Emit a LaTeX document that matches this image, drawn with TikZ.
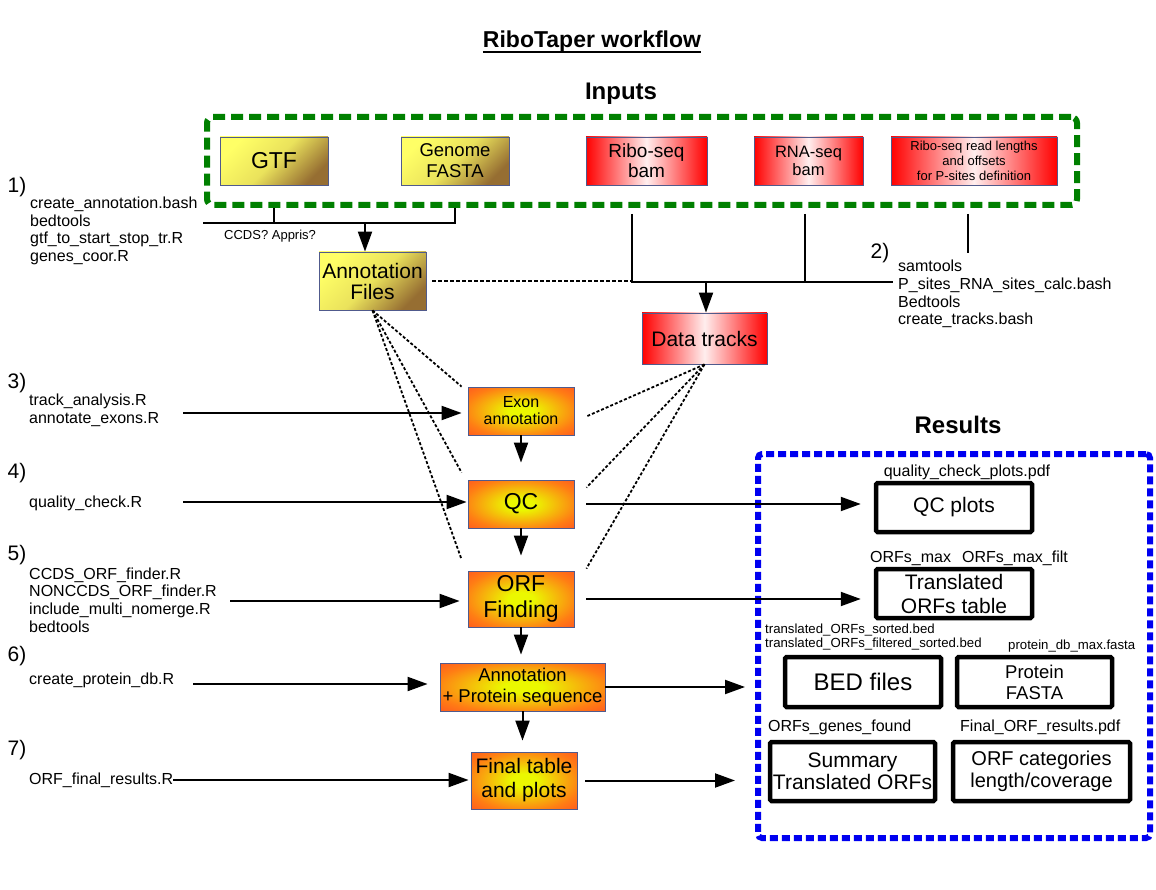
\documentclass[tikz,border=0pt]{standalone}
\usepackage{fontspec}
\setmainfont{Liberation Sans}
\usepackage{xcolor}
\usepackage{tikz}
\usetikzlibrary{positioning, arrows.meta}

\definecolor{ylw}{RGB}{255,255,102}
\definecolor{brn}{RGB}{150,110,50}
\definecolor{pinkw}{RGB}{255,238,238}
\definecolor{orng}{RGB}{255,60,40}
\definecolor{omid}{RGB}{255,125,20}
\definecolor{yel}{RGB}{235,248,0}
\definecolor{boxline}{RGB}{80,90,140}
\definecolor{grn}{RGB}{0,128,0}
\definecolor{blu}{RGB}{0,0,240}
\newcommand{\fsz}[2]{\fontsize{#1}{#2}\selectfont}
\pgfdeclareradialshading{glow}{\pgfpoint{0bp}{0bp}}{color(0bp)=(yel); color(6bp)=(yel); color(27bp)=(omid); color(44bp)=(orng); color(75bp)=(orng)}

\begin{document}
\begin{tikzpicture}[x=1pt, y=-1pt,
    every node/.style={inner sep=0pt, align=center},
    gbox/.style={draw=boxline, line width=0.8pt, top color=ylw, bottom color=brn, middle color=ylw!80!brn, shading angle=45},
    rbox/.style={draw=boxline, line width=0.8pt, left color=red, right color=red, middle color=pinkw},
    obox/.style={draw=boxline, line width=0.8pt, shade, shading=glow},
    resbox/.style={draw, line width=4.5pt, rounded corners=1.5pt},
    arr/.style={line width=2pt, -{Triangle[length=20pt, width=14pt]}},
    wire/.style={line width=2pt},
    dots/.style={line width=1.8pt, dash pattern=on 3pt off 2pt},
    num/.style={font=\fsz{21}{24}},
    tools/.style={anchor=west, align=left, font=\fsz{16}{17.7}},
    fname/.style={anchor=west, align=left, font=\fsz{16}{18}}]
    \useasboundingbox (0,0) rectangle (1156,890);

    % Title and headings
    \node[font=\fsz{23}{27}\bfseries, anchor=base] (title) at (592,48) {RiboTaper workflow};
    \draw[line width=2pt] ([yshift=-4pt]title.base west) -- ([yshift=-4pt]title.base east);
    \node[font=\fsz{24}{28}\bfseries, anchor=base] (inlbl) at (621,100) {Inputs};
    \node[font=\fsz{24}{28}\bfseries, anchor=base] (reslbl) at (958,433) {Results};

    % Inputs frame and boxes
    \node[draw=grn, line width=6pt, dash pattern=on 12pt off 6pt, rounded corners=6pt,
          minimum width=870pt, minimum height=88pt] (inputs) at (642,161) {};
    \node[gbox, minimum width=108pt, minimum height=48pt, font=\fsz{23}{26}] (gtf) at (274,161) {GTF};
    \node[gbox, minimum width=108pt, minimum height=48pt, font=\fsz{18.5}{21}] (fasta) at (455,161) {Genome\\FASTA};
    \node[rbox, minimum width=121pt, minimum height=48pt, font=\fsz{19}{20}] (ribo) at (646.5,161) {Ribo-seq\\bam};
    \node[rbox, minimum width=109pt, minimum height=48pt, font=\fsz{16.5}{17.5}] (rna) at (808.5,161) {RNA-seq\\bam};
    \node[rbox, minimum width=166pt, minimum height=48pt, font=\fsz{13}{15}] (offs) at (974,161) {Ribo-seq read lengths\\and offsets\\for P-sites definition};

    % Step numbers and scripts
    \foreach \n/\x/\y in {1/17/187, 2/880/253, 3/17/383, 4/17/473, 5/17/555, 6/17/656, 7/17/750} {
        \node[num] (n\n) at (\x,\y) {\n)};
    }
    \node[tools] (tools1) at (30,231) {create\_annotation.bash\\bedtools\\gtf\_to\_start\_stop\_tr.R\\genes\_coor.R};
    \node[tools] (tools2) at (898,294) {samtools\\P\_sites\_RNA\_sites\_calc.bash\\Bedtools\\create\_tracks.bash};
    \node[tools] (tools3) at (29,410) {track\_analysis.R\\annotate\_exons.R};
    \node[tools] (tools4) at (29,503) {quality\_check.R};
    \node[tools] (tools5) at (29,600) {CCDS\_ORF\_finder.R\\NONCCDS\_ORF\_finder.R\\include\_multi\_nomerge.R\\bedtools};
    \node[tools] (tools6) at (29,680) {create\_protein\_db.R};
    \node[tools] (tools7) at (29,780) {ORF\_final\_results.R};
    \node[anchor=west, font=\fsz{13}{15}] (ccds) at (224,236) {CCDS? Appris?};

    % Processing boxes
    \node[gbox, minimum width=107pt, minimum height=58pt, font=\fsz{21}{21}] (annot) at (372.5,281) {Annotation\\Files};
    \node[rbox, minimum width=125pt, minimum height=51pt, font=\fsz{21}{24}] (tracks) at (704.5,338.5) {Data tracks};
    \node[obox, minimum width=106pt, minimum height=48pt, font=\fsz{16}{17}] (exon) at (521,411) {Exon\\annotation};
    \node[obox, minimum width=106pt, minimum height=48pt, font=\fsz{23}{26}] (qc) at (521,504) {QC};
    \node[obox, minimum width=106pt, minimum height=56pt, font=\fsz{23}{26}] (orf) at (521,599) {ORF\\Finding};
    \node[obox, minimum width=165pt, minimum height=48pt, font=\fsz{18.5}{21}] (prot) at (522.5,687) {Annotation\\+ Protein sequence};
    \node[obox, minimum width=106pt, minimum height=57pt, font=\fsz{21}{24}] (final) at (524,780.5) {Final table\\and plots};

    % Results frame and boxes
    \node[draw=blu, line width=6pt, dash pattern=on 8pt off 4pt, rounded corners=4pt,
          minimum width=392pt, minimum height=384pt] (results) at (954,646) {};
    \node[resbox, minimum width=156pt, minimum height=49pt, font=\fsz{21}{24}] (qcplots) at (954,507.5) {QC plots};
    \node[resbox, minimum width=156pt, minimum height=49pt, font=\fsz{21}{24}] (orftab) at (954,593.5) {Translated\\ORFs table};
    \node[resbox, minimum width=156pt, minimum height=50pt, font=\fsz{24}{26}] (bed) at (863,682) {BED files};
    \node[resbox, minimum width=155pt, minimum height=50pt, font=\fsz{18.5}{21}] (pfasta) at (1034.5,682) {Protein\\FASTA};
    \node[resbox, minimum width=165pt, minimum height=59pt, font=\fsz{21}{22}] (summ) at (852.5,771.5) {Summary\\Translated ORFs};
    \node[resbox, minimum width=177pt, minimum height=59pt, font=\fsz{20}{22}] (cats) at (1041.5,771.5) {ORF categories\\length/coverage};

    % Output file names
    \node[font=\fsz{16}{18}] (qclbl) at (967,472) {quality\_check\_plots.pdf};
    \node[fname] (tablbl) at (870,558) {ORFs\_max\hspace{11pt}ORFs\_max\_filt};
    \node[fname, font=\fsz{13.2}{14.5}] (bedlbl) at (765,637) {translated\_ORFs\_sorted.bed\\translated\_ORFs\_filtered\_sorted.bed};
    \node[fname, font=\fsz{13.2}{15}] (falbl) at (1008,646) {protein\_db\_max.fasta};
    \node[fname] (sumlbl) at (768,727) {ORFs\_genes\_found};
    \node[fname] (catlbl) at (960,727) {Final\_ORF\_results.pdf};

    % Input wiring
    \coordinate (abus) at (365,223);
    \coordinate (tbus) at (706,282);
    \coordinate (rtop) at (632,214);
    \coordinate (ntop) at (805,214);
    \coordinate (otop) at (968,214);
    \coordinate (obot) at (968,253);
    \draw[wire] (gtf.south |- inputs.south) -- (gtf.south |- abus);
    \draw[wire, shorten >=5pt] (fasta.south |- inputs.south) -- (fasta.south |- abus) -- (abus -| tools1.east);
    \draw[arr] (abus) -- (abus |- annot.north);
    \draw[wire, shorten >=5pt] (rtop) -- (rtop |- tbus) -- (tbus -| tools2.west);
    \draw[wire] (ntop) -- (ntop |- tbus);
    \draw[wire] (otop) -- (obot);
    \draw[arr] (tbus) -- (tbus |- tracks.north);
    \draw[line width=1.5pt, dash pattern=on 4pt off 2pt, shorten <=6pt] (annot.east) -- (annot.east -| rtop);

    % Scripts into processing steps
    \foreach \t/\x/\y/\g in {exon/183/413/6, qc/183/502/1, orf/230/601/8, prot/193/684/12} {
        \coordinate (from\t) at (\x,\y);
        \draw[arr, shorten >=\g pt] (from\t) -- (from\t -| \t.west);
    }
    \draw[arr, shorten >=2pt] (tools7.east) -- (tools7.east -| final.west);

    % Chain down the middle
    \draw[arr, shorten >=17pt] (exon.south) -- (exon.south |- qc.north);
    \draw[arr, shorten >=15pt] (qc.south) -- (qc.south |- orf.north);
    \draw[arr, shorten >=8pt] (orf.south) -- (orf.south |- prot.north);
    \draw[arr, shorten >=11pt] (prot.south) -- (prot.south |- final.north);

    % Into results
    \draw[arr, shorten <=12pt, shorten >=13pt] (qc.east) -- (qc.east -| qcplots.west);
    \draw[arr, shorten <=12pt, shorten >=13pt] (orf.east) -- (orf.east -| orftab.west);
    \draw[arr, shorten >=10pt] (prot.east) -- (prot.east -| results.west);
    \draw[arr, shorten <=8pt, shorten >=20pt] (final.east) -- (final.east -| results.west);

    % Dotted links from annotation and tracks
    \foreach \t/\dy in {exon/0, qc/7, orf/11} {
        \draw[dots] (annot.south) -- ([xshift=-6pt, yshift=\dy pt]\t.north west);
    }
    \draw[dots] (tracks.south) -- ([xshift=13pt, yshift=-5pt]exon.east);
    \draw[dots] (tracks.south) -- ([xshift=12pt, yshift=-8pt]qc.north east);
    \draw[dots] (tracks.south) -- ([xshift=12pt, yshift=2pt]orf.north east);
\end{tikzpicture}
\end{document}
